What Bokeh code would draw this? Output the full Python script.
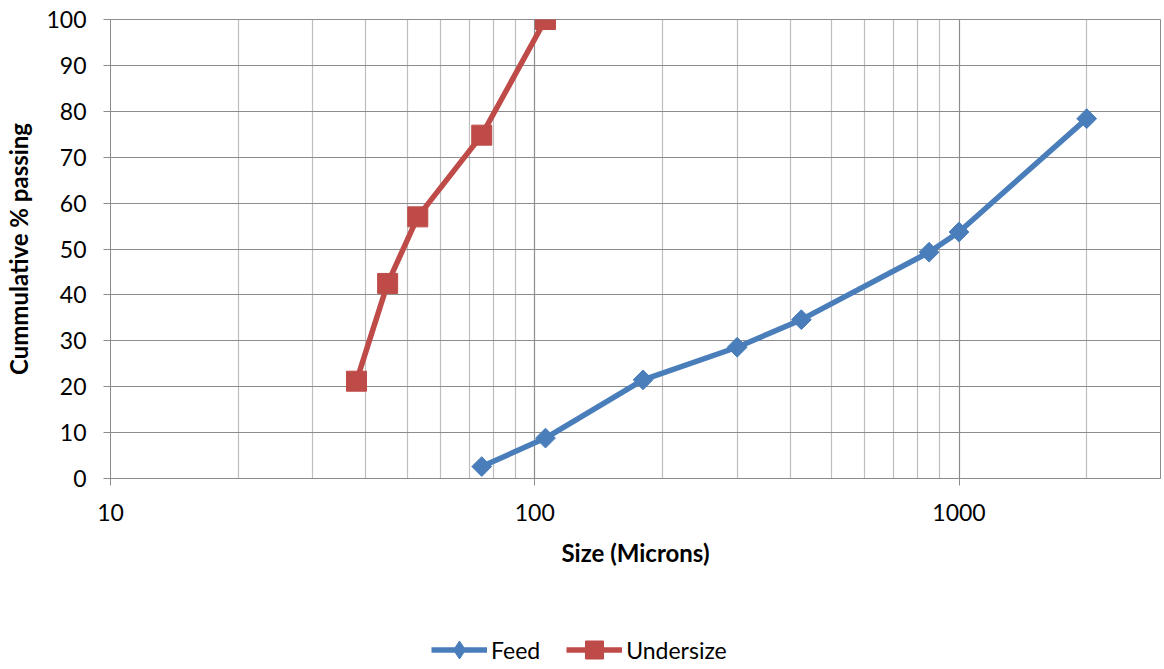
import math
from bokeh.plotting import figure
from bokeh.layouts import column
from bokeh.models import Range1d, FixedTicker, PrintfTickFormatter, Legend, LegendItem
from bokeh.embed import file_html
from bokeh.resources import INLINE

# Data
feed_size = [75, 106, 180, 300, 425, 850, 1000, 2000]
feed_pct = [2.6, 8.8, 21.5, 28.6, 34.6, 49.3, 53.7, 78.4]
under_size = [38, 45, 53, 75, 106]
under_pct = [21.2, 42.5, 57.0, 74.8, 100.0]

x_major = [10, 100, 1000]
x_minor = [20, 30, 40, 50, 60, 70, 80, 90, 200, 300, 400, 500, 600, 700, 800, 900, 2000]
y_ticks = [0, 10, 20, 30, 40, 50, 60, 70, 80, 90, 100]

FONT = "Lato"
GRID_DARK = "#8c8c8c"
GRID_LIGHT = "#bdbdbd"
BLUE = "#4A7EBB"
RED = "#BE4B48"

p = figure(width=1162, height=588, x_axis_type="log",
           x_range=Range1d(10, 2985), y_range=Range1d(0, 100),
           output_backend="svg", toolbar_location=None,
           min_border_left=110, min_border_top=19, min_border_right=2,
           min_border_bottom=110)
p.background_fill_color = "white"
p.border_fill_color = "white"
p.outline_line_color = GRID_DARK
p.outline_line_width = 1

# x axis
xa = p.xaxis[0]
xa.ticker = FixedTicker(ticks=x_major, minor_ticks=x_minor)
xa.formatter = PrintfTickFormatter(format="%d")
xa.axis_label = "Size (Microns)"
xa.axis_label_text_font = FONT
xa.axis_label_text_font_style = "bold"
xa.axis_label_text_font_size = "24px"
xa.axis_label_text_color = "black"
xa.axis_label_standoff = 14
xa.major_label_text_font = FONT
xa.major_label_text_font_size = "23px"
xa.major_label_text_color = "black"
xa.major_label_standoff = 18
xa.major_tick_out = 7
xa.major_tick_in = 0
xa.minor_tick_line_color = None
xa.axis_line_color = GRID_DARK
xa.major_tick_line_color = GRID_DARK

# y axis
ya = p.yaxis[0]
ya.ticker = FixedTicker(ticks=y_ticks)
ya.axis_label = "Cummulative % passing"
ya.axis_label_text_font = FONT
ya.axis_label_text_font_style = "bold"
ya.axis_label_text_font_size = "24px"
ya.axis_label_text_color = "black"
ya.axis_label_standoff = 10
ya.major_label_text_font = FONT
ya.major_label_text_font_size = "23px"
ya.major_label_text_color = "black"
ya.major_label_standoff = 17
ya.major_tick_out = 7
ya.major_tick_in = 0
ya.minor_tick_line_color = None
ya.axis_line_color = GRID_DARK
ya.major_tick_line_color = GRID_DARK

# grids
p.xgrid.ticker = FixedTicker(ticks=x_major, minor_ticks=x_minor)
p.xgrid.grid_line_color = GRID_DARK
p.xgrid.grid_line_width = 1.2
p.xgrid.minor_grid_line_color = GRID_LIGHT
p.xgrid.minor_grid_line_width = 1.2
p.ygrid.ticker = FixedTicker(ticks=y_ticks)
p.ygrid.grid_line_color = GRID_DARK
p.ygrid.grid_line_width = 1.2

# series
p.line(feed_size, feed_pct, line_color=BLUE, line_width=5.5, line_join="round")
p.scatter(feed_size, feed_pct, marker="square", angle=math.pi / 4, size=14,
          fill_color=BLUE, line_color=BLUE)
p.line(under_size, under_pct, line_color=RED, line_width=5.5, line_join="round")
p.scatter(under_size, under_pct, marker="square", size=20,
          fill_color=RED, line_color=RED)

# legend strip below the chart
lg = figure(width=1162, height=80, x_axis_type="log",
            x_range=Range1d(10, 2985), y_range=Range1d(0, 100),
            output_backend="svg", toolbar_location=None,
            x_axis_location=None, y_axis_location=None,
            min_border=0)
lg.outline_line_color = None
lg.grid.visible = False
lg.background_fill_color = "white"
lg.border_fill_color = "white"
fl = lg.line(feed_size, feed_pct, line_color=BLUE, line_width=5.5, visible=False)
fm = lg.scatter(feed_size, feed_pct, marker="diamond", size=20,
                fill_color=BLUE, line_color=BLUE, visible=False)
ul = lg.line(under_size, under_pct, line_color=RED, line_width=5.5, visible=False)
um = lg.scatter(under_size, under_pct, marker="square", size=20,
                fill_color=RED, line_color=RED, visible=False)

legend = Legend(items=[LegendItem(label="Feed", renderers=[fl, fm]),
                       LegendItem(label="Undersize", renderers=[ul, um])],
                location=(321, -4), orientation="horizontal",
                glyph_width=56, glyph_height=45, label_standoff=4, spacing=26,
                padding=0, margin=0, border_line_color=None,
                background_fill_alpha=0, click_policy="none",
                inactive_fill_alpha=0,
                label_text_font=FONT, label_text_font_size="23px",
                label_text_color="black")
lg.add_layout(legend, "center")

layout = column(p, lg, spacing=0)
open("out.html", "w").write(file_html(layout, INLINE))
